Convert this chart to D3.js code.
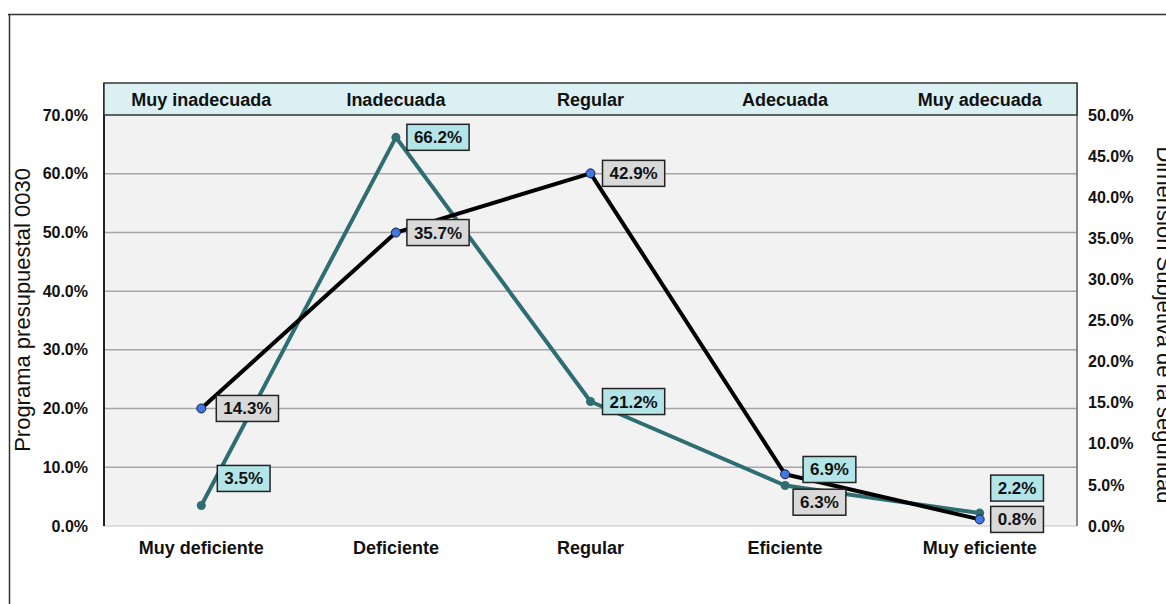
<!DOCTYPE html>
<html>
<head>
<meta charset="utf-8">
<script src="https://cdn.jsdelivr.net/npm/d3@7"></script>
<style>
  body { margin: 0; background: #fff; }
  svg text { font-family: "Liberation Sans", Arial, sans-serif; fill: #111; }
</style>
</head>
<body>
<div id="chart"></div>
<script>
// data
const categories = ['Muy deficiente', 'Deficiente', 'Regular', 'Eficiente', 'Muy eficiente'];
const topLabels = ['Muy inadecuada', 'Inadecuada', 'Regular', 'Adecuada', 'Muy adecuada'];
const programa = [3.5, 66.2, 21.2, 6.9, 2.2];     // left axis
const dimension = [14.3, 35.7, 42.9, 6.3, 0.8];   // right axis
const leftTicks = [0, 10, 20, 30, 40, 50, 60, 70];
const rightTicks = [0, 5, 10, 15, 20, 25, 30, 35, 40, 45, 50];

const W = 1166, H = 604;
const plot = {left: 104, right: 1077, top: 115, bottom: 526, headTop: 83};

const svg = d3.select('#chart').append('svg')
  .attr('width', W).attr('height', H);

// outer frame
svg.append('line').attr('x1', 8).attr('x2', W).attr('y1', 14.5).attr('y2', 14.5)
  .attr('stroke', '#333').attr('stroke-width', 1.5);
svg.append('line').attr('x1', 9.5).attr('x2', 9.5).attr('y1', 14).attr('y2', H)
  .attr('stroke', '#333').attr('stroke-width', 1.5);

const x = d3.scaleBand().domain(categories).range([plot.left, plot.right]);
const yL = d3.scaleLinear().domain([0, 70]).range([plot.bottom, plot.top]);
const yR = d3.scaleLinear().domain([0, 50]).range([plot.bottom, plot.top]);
const cx = d => x(d) + x.bandwidth() / 2;

// plot background
svg.append('rect')
  .attr('x', plot.left).attr('y', plot.top)
  .attr('width', plot.right - plot.left).attr('height', plot.bottom - plot.top)
  .attr('fill', '#f2f2f2');

// grid
svg.append('g').selectAll('line')
  .data(leftTicks.filter(t => t > 0 && t < 70))
  .enter().append('line')
  .attr('x1', plot.left).attr('x2', plot.right)
  .attr('y1', d => yL(d)).attr('y2', d => yL(d))
  .attr('stroke', '#a6a6a6').attr('stroke-width', 1.5);

svg.append('line').attr('x1', plot.left).attr('x2', plot.right)
  .attr('y1', plot.bottom).attr('y2', plot.bottom)
  .attr('stroke', '#d4d4d4').attr('stroke-width', 1.5);
svg.append('line').attr('x1', plot.left).attr('x2', plot.left)
  .attr('y1', plot.headTop).attr('y2', plot.bottom)
  .attr('stroke', '#222').attr('stroke-width', 2);
svg.append('line').attr('x1', plot.right).attr('x2', plot.right)
  .attr('y1', plot.headTop).attr('y2', plot.bottom)
  .attr('stroke', '#666').attr('stroke-width', 1.5);

// header band with the second category set
svg.append('rect')
  .attr('x', plot.left).attr('y', plot.headTop)
  .attr('width', plot.right - plot.left).attr('height', plot.top - plot.headTop)
  .attr('fill', '#daf0f3').attr('stroke', '#333').attr('stroke-width', 1.5);

svg.append('g').selectAll('text')
  .data(topLabels)
  .enter().append('text')
  .attr('x', (d, i) => cx(categories[i]))
  .attr('y', 106)
  .attr('text-anchor', 'middle')
  .style('font-size', '18px').style('font-weight', 'bold')
  .text(d => d);

// axes
const fmt = d => d.toFixed(1) + '%';
const axL = svg.append('g')
  .attr('transform', 'translate(' + (plot.left - 16) + ',0)')
  .call(d3.axisLeft(yL).tickValues(leftTicks).tickFormat(fmt).tickSize(0));
const axR = svg.append('g')
  .attr('transform', 'translate(' + (plot.right + 11) + ',0)')
  .call(d3.axisRight(yR).tickValues(rightTicks).tickFormat(fmt).tickSize(0));
[axL, axR].forEach(ax => {
  ax.select('.domain').remove();
  ax.selectAll('text')
    .attr('x', 0)
    .style('font-family', '"Liberation Sans", Arial, sans-serif')
    .style('font-size', '16px').style('font-weight', 'bold').attr('fill', '#111');
});

const axB = svg.append('g')
  .attr('transform', 'translate(0,' + plot.bottom + ')')
  .call(d3.axisBottom(x).tickSize(0));
axB.select('.domain').remove();
axB.selectAll('text')
  .attr('y', 15)
  .style('font-family', '"Liberation Sans", Arial, sans-serif')
  .style('font-size', '18px').style('font-weight', 'bold').attr('fill', '#111');

// axis titles
svg.append('text')
  .attr('transform', 'translate(30,310) rotate(-90)')
  .attr('text-anchor', 'middle')
  .style('font-size', '22px')
  .text('Programa presupuestal 0030');
svg.append('text')
  .attr('transform', 'translate(1157,325) rotate(90)')
  .attr('text-anchor', 'middle')
  .style('font-size', '22px')
  .text('Dimensión Subjetiva de la seguridad');

// series
const series = [
  {vals: programa, y: yL, line: '#2e6e72', dot: '#2e6e72', dotStroke: 'none', r: 4.5,
   box: '#b3e5e8', off: [[16, -27], [11, 0], [12, 0], [18, -16], [11, -25]]},
  {vals: dimension, y: yR, line: '#000', dot: '#3f78e0', dotStroke: '#1a1a40', r: 4.5,
   box: '#d9d9d9', off: [[15, 0], [11, 0], [12, 0], [8, 28], [11, 0]]}
];

series.forEach(s => {
  const pts = s.vals.map((v, i) => [cx(categories[i]), s.y(v)]);
  svg.append('path')
    .attr('d', d3.line()(pts))
    .attr('fill', 'none').attr('stroke', s.line)
    .attr('stroke-width', 4).attr('stroke-linejoin', 'round');
  s.pts = pts;
});

series.forEach(s => {
  svg.append('g').selectAll('circle')
    .data(s.pts)
    .enter().append('circle')
    .attr('cx', d => d[0]).attr('cy', d => d[1])
    .attr('r', s.r)
    .attr('fill', s.dot).attr('stroke', s.dotStroke).attr('stroke-width', 1);
});

// value labels
series.forEach(s => {
  const g = svg.append('g');
  s.vals.forEach((v, i) => {
    const [px, py] = s.pts[i];
    const lx = px + s.off[i][0], ly = py + s.off[i][1];
    const t = g.append('text')
      .attr('x', lx + 7).attr('y', ly + 6)
      .style('font-size', '17px').style('font-weight', 'bold')
      .text(fmt(v));
    const w = t.node().getComputedTextLength();
    g.insert('rect', () => t.node())
      .attr('x', lx).attr('y', ly - 13)
      .attr('width', w + 14).attr('height', 26)
      .attr('fill', s.box).attr('stroke', '#222').attr('stroke-width', 1.5);
  });
});
</script>
</body>
</html>
